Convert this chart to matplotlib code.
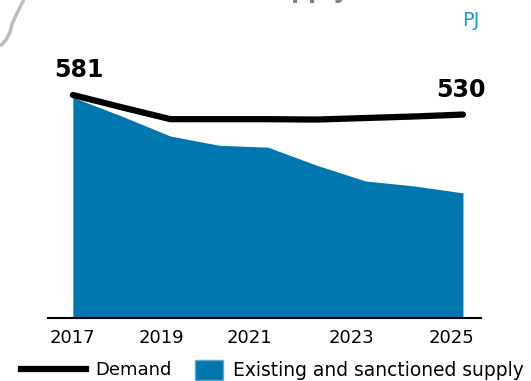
import matplotlib
matplotlib.use("Agg")
import matplotlib.pyplot as plt
from matplotlib.lines import Line2D
from matplotlib.patches import Patch, PathPatch
from matplotlib.path import Path

# données (PJ)
years = [2017, 2018, 2019, 2020, 2021, 2022, 2023, 2024, 2025]
demand = [581, 549, 518, 518, 518, 517, 521, 525, 530]
supply = [575, 526, 474, 450, 445, 398, 357, 344, 326]

# étiquettes de l'axe x, placées comme sur l'image
tick_labels = ['2017', '2019', '2021', '2023', '2025']
tick_pos = [2017, 2018.81, 2020.62, 2022.71, 2024.76]

W, H = 531, 381
fig = plt.figure(figsize=(W / 100, H / 100), dpi=100)
ax = fig.add_axes([48 / W, 63 / H, 433 / W, 249.5 / H])

blue = '#0076ae'
ax.fill_between(years, 0, supply, color=blue, linewidth=0)
ax.plot(years, demand, color='black', linewidth=4.5, solid_capstyle='round')

ax.set_xlim(2016.49, 2025.37)
ax.set_ylim(0, 650)

for s in ['top', 'right', 'left']:
    ax.spines[s].set_visible(False)
ax.spines['bottom'].set_linewidth(1.5)
ax.set_yticks([])
ax.set_xticks(tick_pos)
ax.set_xticklabels(tick_labels, fontsize=13)
ax.tick_params(axis='x', length=0, pad=8)

# valeurs de début et de fin
ax.annotate(str(demand[0]), (years[0], demand[0]), xytext=(4, 9),
            textcoords='offset points', ha='center', va='bottom',
            fontsize=17, fontweight='bold')
ax.annotate(str(demand[-1]), (years[-1], demand[-1]), xytext=(-1.5, 9),
            textcoords='offset points', ha='center', va='bottom',
            fontsize=17, fontweight='bold')

# unité et titre coupé en haut
fig.text(471 / W, 1 - 21 / H, 'PJ', color='#1a9ad6', fontsize=14,
         ha='center', va='center')
fig.text(261 / W, 1 + 2 / H, 'supply', color='#7f7f7f', fontsize=17,
         fontweight='bold', ha='left', va='baseline')

# petite forme grise en haut à gauche
verts = [(0, 1 - 46 / H), (10 / W, 1 - 38 / H), (12 / W, 1 - 24 / H),
         (20 / W, 1 - 6 / H), (24 / W, 1.0)]
path = Path(verts, [Path.MOVETO, Path.CURVE3, Path.CURVE3, Path.CURVE3, Path.CURVE3])
fig.patches.append(PathPatch(path, transform=fig.transFigure, facecolor='none',
                             edgecolor='#bdbdbd', linewidth=2.5))

# légende
fig.legend(handles=[Line2D([], [], color='black', linewidth=4.5)], labels=['Demand'],
           loc='center left', bbox_to_anchor=(12 / W, 1 - 370 / H), frameon=False,
           fontsize=13, handlelength=3.6, handletextpad=0.5, borderpad=0)
fig.legend(handles=[Patch(facecolor=blue, edgecolor='#5fa8d0')],
           labels=['Existing and sanctioned supply'],
           loc='center left', bbox_to_anchor=(186 / W, 1 - 370 / H), frameon=False,
           fontsize=13.4, handlelength=1.5, handleheight=1.3, handletextpad=0.55,
           borderpad=0)

fig.savefig('out.png', dpi=100)
